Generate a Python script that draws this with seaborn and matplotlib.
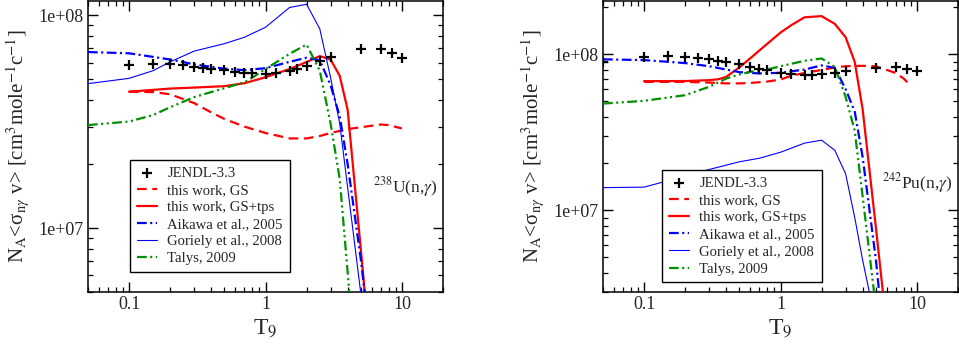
import numpy as np
import pandas as pd
import matplotlib
matplotlib.use("Agg")
import matplotlib.pyplot as plt
from matplotlib.ticker import LogLocator, FuncFormatter, NullFormatter
import seaborn as sns

# ---------------- data ----------------
# 238U(n,g)
T_jendl_238 = [0.1, 0.15, 0.2, 0.25, 0.3, 0.35, 0.4, 0.5, 0.6, 0.7, 0.8, 1.0, 1.2, 1.5, 1.7, 2.0, 2.5, 3.0, 5, 7, 8.5, 10]
jendl_238 = [5.85e7, 5.93e7, 5.89e7, 5.85e7, 5.72e7, 5.68e7, 5.62e7, 5.52e7, 5.42e7, 5.34e7, 5.34e7, 5.28e7,
             5.34e7, 5.47e7, 5.58e7, 5.78e7, 6.1e7, 6.4e7, 6.92e7, 6.92e7, 6.63e7, 6.28e7]

T_gs_238 = [0.1, 0.15, 0.2, 0.3, 0.4, 0.5, 0.7, 1.0, 1.5, 2.0, 2.5, 3.0, 4, 5, 7, 8, 10]
gs_238 = [4.38e7, 4.36e7, 4.26e7, 3.87e7, 3.5e7, 3.26e7, 3.0e7, 2.8e7, 2.64e7, 2.64e7, 2.71e7, 2.8e7,
          2.92e7, 2.98e7, 3.07e7, 3.05e7, 2.94e7]

T_tps_238 = [0.1, 0.2, 0.3, 0.5, 0.7, 1.0, 1.5, 2.0, 2.5, 3.0, 3.5, 4, 5, 6]
tps_238 = [4.38e7, 4.53e7, 4.58e7, 4.65e7, 4.8e7, 5.12e7, 5.6e7, 6.04e7, 6.44e7, 6.2e7, 5.2e7, 3.6e7, 7.9e6, 2.2e6]

T_aik_238 = [0.05, 0.1, 0.2, 0.3, 0.5, 0.7, 1.0, 1.5, 2.0, 2.5, 3.0, 3.5, 4, 5, 6]
aik_238 = [6.73e7, 6.64e7, 6.21e7, 5.89e7, 5.62e7, 5.53e7, 5.65e7, 6.05e7, 6.33e7, 6.15e7, 4.7e7, 3.35e7,
           2.0e7, 7.1e6, 2.6e6]

T_gor_238 = [0.05, 0.1, 0.15, 0.2, 0.3, 0.5, 0.7, 1.0, 1.5, 2.0, 2.5, 3.0, 3.5, 4, 5, 6]
gor_238 = [4.78e7, 5.06e7, 5.5e7, 6.05e7, 6.8e7, 7.37e7, 7.9e7, 8.8e7, 1.09e8, 1.13e8, 8.65e7, 5.1e7,
           3.1e7, 1.55e7, 4.9e6, 1.5e6]

T_tal_238 = [0.05, 0.1, 0.15, 0.2, 0.3, 0.5, 0.7, 0.8, 1.0, 1.5, 2.0, 2.5, 3.0, 3.5, 4, 5]
tal_238 = [3.05e7, 3.17e7, 3.4e7, 3.7e7, 4.13e7, 4.55e7, 4.85e7, 5.1e7, 5.6e7, 6.6e7, 7.3e7, 5.5e7,
           3.1e7, 1.7e7, 6.2e6, 1.0e6]

# 242Pu(n,g)
T_jendl_242 = [0.05, 0.1, 0.15, 0.2, 0.25, 0.3, 0.35, 0.4, 0.5, 0.6, 0.7, 0.8, 1.0, 1.2, 1.5, 1.7, 2.0, 2.5, 3.0, 5, 7, 8.5, 10]
jendl_242 = [8.96e7, 9.66e7, 9.75e7, 9.66e7, 9.51e7, 9.29e7, 9.10e7, 8.96e7, 8.67e7, 8.26e7, 8.05e7, 7.93e7,
             7.62e7, 7.47e7, 7.36e7, 7.36e7, 7.47e7, 7.62e7, 7.82e7, 8.2e7, 8.26e7, 8.05e7, 7.82e7]

T_gs_242 = [0.1, 0.2, 0.3, 0.4, 0.5, 0.6, 0.8, 1.0, 1.2, 1.5, 2.0, 2.5, 3.0, 4, 5, 7, 8, 9]
gs_242 = [6.67e7, 6.67e7, 6.6e7, 6.52e7, 6.52e7, 6.56e7, 6.7e7, 6.9e7, 7.3e7, 7.6e7, 7.95e7, 8.25e7, 8.4e7,
          8.45e7, 8.4e7, 7.6e7, 7.0e7, 6.3e7]

T_tps_242 = [0.1, 0.2, 0.3, 0.35, 0.4, 0.5, 0.6, 0.7, 0.8, 1.0, 1.2, 1.5, 2.0, 2.5, 3.0, 3.5, 4, 5, 6]
tps_242 = [6.74e7, 6.75e7, 6.84e7, 6.93e7, 7.18e7, 8.26e7, 9.44e7, 1.06e8, 1.17e8, 1.38e8, 1.54e8, 1.73e8,
           1.76e8, 1.57e8, 1.29e8, 8.96e7, 4.45e7, 7.8e6, 1.8e6]

T_aik_242 = [0.05, 0.1, 0.2, 0.3, 0.5, 0.7, 1.0, 1.5, 2.0, 2.5, 3.0, 3.5, 4, 5, 6]
aik_242 = [9.3e7, 9.2e7, 8.8e7, 8.4e7, 7.7e7, 7.55e7, 7.62e7, 8.0e7, 8.5e7, 8.2e7, 6.0e7, 4.3e7, 2.2e7,
           4.85e6, 1.0e6]

T_gor_242 = [0.05, 0.1, 0.2, 0.3, 0.5, 0.7, 1.0, 1.5, 2.0, 2.5, 3.0, 3.5, 4, 5]
gor_242 = [1.4e7, 1.41e7, 1.66e7, 1.83e7, 2.05e7, 2.16e7, 2.36e7, 2.7e7, 2.82e7, 2.43e7, 1.72e7, 9.0e6,
           4.8e6, 1.9e6]

T_tal_242 = [0.05, 0.1, 0.2, 0.3, 0.4, 0.5, 0.6, 0.8, 1.0, 1.5, 2.0, 2.5, 3.0, 3.5, 4, 5]
tal_242 = [4.84e7, 5.04e7, 5.48e7, 6.2e7, 7.0e7, 7.45e7, 7.73e7, 8.0e7, 8.4e7, 9.1e7, 9.42e7, 8.32e7,
           5.35e7, 3.25e7, 1.23e7, 2.4e6]

labels = ["JENDL-3.3", "this work, GS", "this work, GS+tps",
          "Aikawa et al., 2005", "Goriely et al., 2008", "Talys, 2009"]

# ---------------- style ----------------
sns.set_style("ticks")
plt.rcParams["font.family"] = ["Liberation Serif", "DejaVu Serif"]
plt.rcParams["mathtext.fontset"] = "stix"
plt.rcParams["lines.scale_dashes"] = False
plt.rcParams["axes.linewidth"] = 1.1

RED = "#ff0000"
BLUE = "#0000ff"
GREEN = "#009000"

fig = plt.figure(figsize=(9.59, 3.48), dpi=100)
ax1 = fig.add_axes([88 / 959, 56 / 348, 355 / 959, 291 / 348])
ax2 = fig.add_axes([603 / 959, 56 / 348, 355 / 959, 291 / 348])


def draw(ax, Tj, j, Tgs, gs, Ttps, tps, Taik, aik, Tgor, gor, Ttal, tal):
    sns.lineplot(x=Tgs, y=gs, ax=ax, color=RED, lw=1.6, linestyle=(0, (7, 4)),
                 label=labels[1], zorder=3)
    sns.lineplot(x=Ttps, y=tps, ax=ax, color=RED, lw=1.6, label=labels[2], zorder=3)
    sns.lineplot(x=Taik, y=aik, ax=ax, color=BLUE, lw=1.6, linestyle=(0, (7, 2.5, 1.5, 2.5)),
                 label=labels[3], zorder=3)
    sns.lineplot(x=Tgor, y=gor, ax=ax, color=BLUE, lw=0.8, label=labels[4], zorder=3)
    sns.lineplot(x=Ttal, y=tal, ax=ax, color=GREEN, lw=1.6,
                 linestyle=(0, (7, 2.5, 1.5, 2.5, 1.5, 2.5)), label=labels[5], zorder=3)
    sns.scatterplot(x=Tj, y=j, ax=ax, marker="+", s=55, color="black", linewidth=1.6,
                    label=labels[0], zorder=4)
    ax.set_xscale("log")
    ax.set_yscale("log")
    ax.set_xlim(0.05, 20)
    ax.xaxis.set_major_locator(LogLocator(base=10))
    ax.xaxis.set_minor_locator(LogLocator(base=10, subs=np.arange(2, 10)))
    ax.yaxis.set_major_locator(LogLocator(base=10))
    ax.yaxis.set_minor_locator(LogLocator(base=10, subs=np.arange(2, 10)))
    ax.xaxis.set_major_formatter(FuncFormatter(lambda v, p: f"{v:g}"))
    ax.xaxis.set_minor_formatter(NullFormatter())
    ax.yaxis.set_major_formatter(FuncFormatter(lambda v, p: f"{v:.0e}"))
    ax.yaxis.set_minor_formatter(NullFormatter())
    ax.tick_params(which="both", direction="in", top=True, right=True, labelsize=13,
                   color="black")
    ax.tick_params(which="major", length=7, width=1.0, pad=3)
    ax.tick_params(which="minor", length=3.6, width=0.9)
    for s in ax.spines.values():
        s.set_visible(True)
        s.set_color("black")
        s.set_linewidth(1.1)
    ax.set_xlabel(r"T$_9$", fontsize=17, labelpad=3)
    ax.set_ylabel(r"N$_\mathrm{A}$<σ$_{\mathrm{n}\gamma}$ v> [cm$^3$mole$^{-1}$c$^{-1}$]",
                  fontsize=15, labelpad=5)
    h, l = ax.get_legend_handles_labels()
    order = [l.index(x) for x in labels]
    return [h[i] for i in order], [l[i] for i in order]


LEG = dict(loc="upper left", borderaxespad=0, fontsize=10.6, frameon=True, fancybox=False,
           edgecolor="black", framealpha=1, labelspacing=0.26, handlelength=1.4,
           handletextpad=0.7, borderpad=0.45, scatterpoints=1)

h, l = draw(ax1, T_jendl_238, jendl_238, T_gs_238, gs_238, T_tps_238, tps_238,
            T_aik_238, aik_238, T_gor_238, gor_238, T_tal_238, tal_238)
ax1.set_ylim(5e6, 1.17e8)
leg = ax1.legend(h, l, bbox_to_anchor=(0.118, 0.454), **LEG)
leg.get_frame().set_linewidth(1.0)
ax1.text(0.803, 0.36, r"$^{238}$U(n,$\gamma$)", transform=ax1.transAxes, fontsize=12.5,
         ha="left", va="center")

h, l = draw(ax2, T_jendl_242, jendl_242, T_gs_242, gs_242, T_tps_242, tps_242,
            T_aik_242, aik_242, T_gor_242, gor_242, T_tal_242, tal_242)
ax2.set_ylim(3e6, 2.2e8)
leg = ax2.legend(h, l, bbox_to_anchor=(0.166, 0.419), **LEG)
leg.get_frame().set_linewidth(1.0)
ax2.text(0.786, 0.375, r"$^{242}$Pu(n,$\gamma$)", transform=ax2.transAxes, fontsize=12.5,
         ha="left", va="center")

fig.savefig("out.png", dpi=100)
